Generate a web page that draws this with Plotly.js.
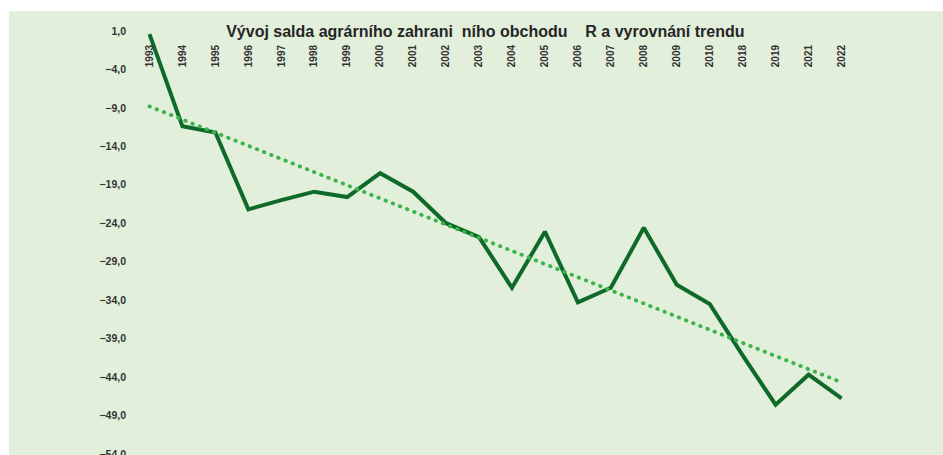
<!DOCTYPE html>
<html>
<head>
<meta charset="utf-8">
<script src="https://cdn.plot.ly/plotly-3.0.1.min.js"></script>
<style>
  html, body { margin: 0; padding: 0; background: #ffffff; width: 943px; height: 455px; overflow: hidden; }
  #chart { position: absolute; left: 9px; top: 11px; width: 934px; height: 444px; }
</style>
</head>
<body>
<div id="chart"></div>
<script>
// Categories (years) as shown on the axis
const years = ["1993","1994","1995","1996","1997","1998","1999","2000","2001","2002","2003",
               "2004","2005","2006","2007","2008","2009","2010","2018","2019","2021","2022"];
// Agrarian foreign trade balance
const saldo = [0.6, -11.4, -12.2, -22.2, -21.0, -19.9, -20.6, -17.5, -19.9, -24.0, -25.8,
               -32.4, -25.1, -34.3, -32.4, -24.6, -32.0, -34.5, -41.2, -47.6, -43.7, -46.8];
// Y axis tick values
const yTicks = [1, -4, -9, -14, -19, -24, -29, -34, -39, -44, -49, -54];
const titleText = "Vývoj salda agrárního zahrani\u00a0\u00a0ního obchodu\u00a0\u00a0\u00a0\u00a0R a vyrovnání trendu";

// Linear trend (least squares on category index), as the spreadsheet trendline
const n = saldo.length;
let sx = 0, sy = 0, sxx = 0, sxy = 0;
for (let i = 0; i < n; i++) { const xi = i + 1; sx += xi; sy += saldo[i]; sxx += xi * xi; sxy += xi * saldo[i]; }
const slope = (n * sxy - sx * sy) / (n * sxx - sx * sx);
const icpt = (sy - slope * sx) / n;
const trendX = [years[0], years[n - 1]];
const trendY = [icpt + slope * 1, icpt + slope * n];

const traces = [
  { x: years, y: saldo, type: 'scatter', mode: 'lines',
    line: { color: '#0f6a2a', width: 4 }, hoverinfo: 'skip' },
  { x: trendX, y: trendY, type: 'scatter', mode: 'lines',
    line: { color: '#3cb44b', width: 3.8, dash: '0.5px,7.2px' }, hoverinfo: 'skip' }
];

const tickFont = { family: 'Liberation Sans, Arial, sans-serif', size: 10, color: '#333333', weight: 'bold' };

const layout = {
  width: 934, height: 444,
  margin: { l: 124, r: 85, t: 20, b: 1, pad: 0 },
  paper_bgcolor: '#e2efda', plot_bgcolor: '#e2efda',
  separators: ', ',
  showlegend: false,
  title: { text: titleText, xref: 'container', x: 0.510, xanchor: 'center',
           yref: 'container', y: 0.953, yanchor: 'middle',
           font: { family: 'Liberation Sans, Arial, sans-serif', size: 16, color: '#262626', weight: 'bold' } },
  xaxis: { type: 'category', categoryorder: 'array', categoryarray: years,
           range: [-0.5, n - 0.5], side: 'bottom', anchor: 'free', position: 0.974,
           tickangle: -90, showgrid: false, zeroline: false, showline: false, ticks: '',
           tickfont: tickFont, automargin: false, fixedrange: true },
  yaxis: { range: [-54.02, 1], tickvals: yTicks, tickformat: '.1f', showgrid: false, zeroline: false,
           showline: false, ticks: '', ticklabelstandoff: 6, ticklabeloverflow: 'allow',
           tickfont: Object.assign({}, tickFont, { size: 10.5 }), automargin: false, fixedrange: true }
};

Plotly.newPlot('chart', traces, layout, { staticPlot: true, displayModeBar: false }).then(function (gd) {
  const paths = gd.querySelectorAll('.scatterlayer .trace path.js-line');
  if (paths.length > 1) { paths[1].style.strokeLinecap = 'round'; }
});
</script>
</body>
</html>
